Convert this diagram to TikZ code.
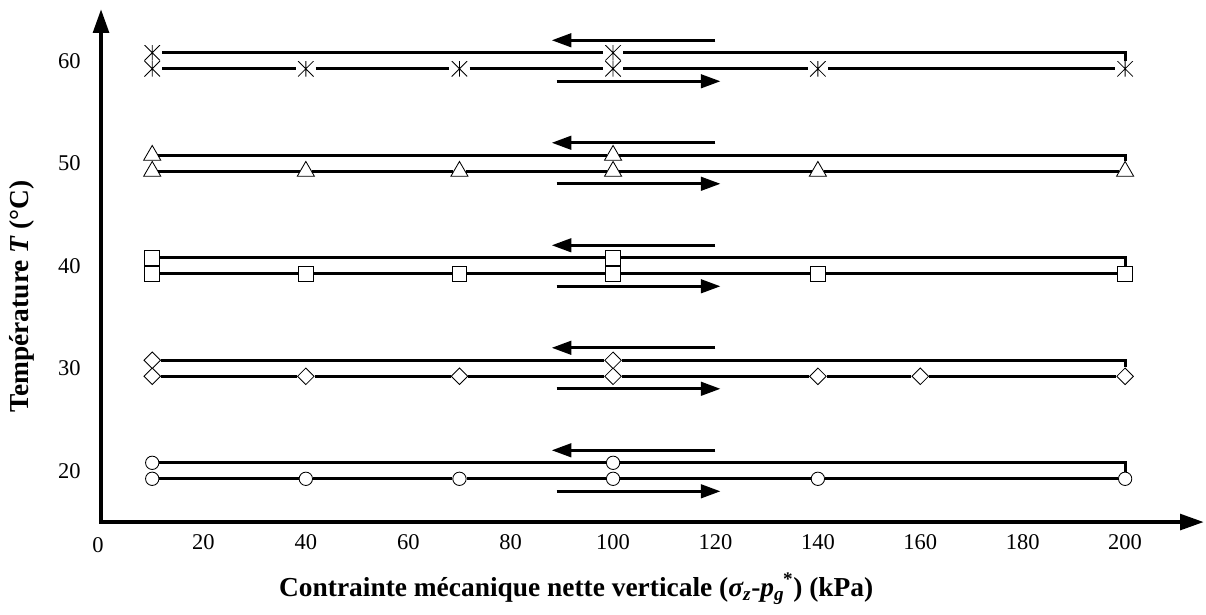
\documentclass[tikz,border=0pt]{standalone}
\usepackage{fontspec}
\setmainfont{Liberation Serif}
\usetikzlibrary{arrows.meta, shapes.geometric}

\begin{document}
\begin{tikzpicture}[x=0.128cm, y=0.25625cm,
  axis/.style={line width=3pt, line join=miter,
    {Triangle[length=17pt,width=11pt]}-{Triangle[length=17pt,width=11pt]}},
  seg/.style={line width=2.3pt},
  flow/.style={line width=2.3pt, -{Triangle[length=14pt,width=9.5pt]}},
  mk/.style={draw, fill=white, line width=0.6pt, inner sep=0pt},
  circ/.style={mk, circle, minimum size=9.5pt},
  sq/.style={mk, rectangle, minimum size=10.5pt},
  diam/.style={mk, diamond, minimum size=12pt},
  tri/.style={mk, regular polygon, regular polygon sides=3, minimum size=14pt},
  ast/.style={rectangle, fill=white, inner sep=0pt, minimum width=14pt, minimum height=11pt,
    path picture={\draw[line width=0.6pt]
      (path picture bounding box.center) ++(-5.5pt,-5.5pt) -- ++(11pt,11pt)
      (path picture bounding box.center) ++(-5.5pt,5.5pt) -- ++(11pt,-11pt)
      (path picture bounding box.center) ++(0,-5.5pt) -- ++(0,11pt);}},
  tick/.style={font=\fontsize{16}{18}\selectfont}]
  \useasboundingbox (-19.73,6.02) rectangle (215.8,65.93);
  % Axes
  \coordinate (O) at (0,15);
  \coordinate (xend) at (215.4,15);
  \coordinate (yend) at (0,65.05);
  \draw[axis] (yend) -- (O) -- (xend);
  % Loading paths at each temperature
  \foreach \t/\s/\xs in {20/circ/{10,40,70,100,140,200}, 30/diam/{10,40,70,100,140,160,200},
      40/sq/{10,40,70,100,140,200}, 50/tri/{10,40,70,100,140,200}, 60/ast/{10,40,70,100,140,200}} {
    % loading
    \foreach \x [remember=\x as \lastx (initially 0)] in \xs {
      \node[\s] (lo\t-\x) at (\x,\t-0.78) {};
      \ifnum\lastx>0 \draw[seg] (lo\t-\lastx) -- (lo\t-\x); \fi
    }
    % unloading
    \node[\s] (up\t-10) at (10,\t+0.78) {};
    \node[\s] (up\t-100) at (100,\t+0.78) {};
    \coordinate (cr\t) at (200,\t+0.78);
    \draw[seg] (up\t-10) -- (up\t-100);
    \draw[seg, line join=miter] (up\t-100) -- (cr\t) -- (lo\t-200);
    % directions
    \coordinate (bk\t) at (120,\t+2);
    \coordinate (bkend\t) at (88,\t+2);
    \draw[flow] (bk\t) -- (bkend\t);
    \coordinate (fw\t) at (89,\t-2);
    \coordinate (fwend\t) at (121,\t-2);
    \draw[flow] (fw\t) -- (fwend\t);
  }
  % Labels
  \node[tick] (xt0) at (-0.6,12.75) {0};
  \foreach \x in {20,40,...,200}
    \node[tick] (xt\x) at (\x,13.05) {\x};
  \foreach \t in {20,30,...,60}
    \node[tick, anchor=east] (yt\t) at (-3.0,\t) {\t};
  \node[font=\bfseries\fontsize{19.5}{22}\selectfont, anchor=base] (xlab) at (92.8,7.78)
    {Contrainte mécanique nette verticale ({\itshape σ}\textsubscript{\itshape z}-{\itshape p}\textsubscript{\itshape g}\kern-0.05em\textsuperscript{*}) (kPa)};
  \node[font=\bfseries\fontsize{19.5}{22}\selectfont, rotate=90] (ylab) at (-15.4,37)
    {Température {\itshape T} (°C)};
\end{tikzpicture}
\end{document}
